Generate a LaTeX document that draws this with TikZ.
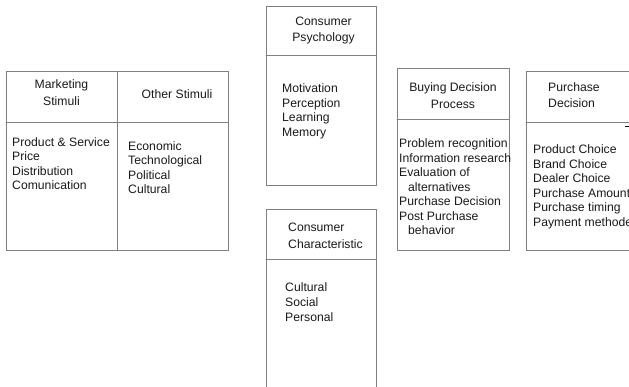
\documentclass[tikz,border=0pt]{standalone}
\usepackage{fontspec}
\setmainfont{Liberation Sans}
\usetikzlibrary{positioning}

\begin{document}
\begin{tikzpicture}[x=1pt,y=-1pt,line cap=round]
      \useasboundingbox (0,0) rectangle (629,387);
      \tikzstyle{myframe}=[line width=0.9pt, draw=black!50, line join=miter];
      % multi-line nodes sit on the baseline of their last line
      \tikzstyle{mytitle}=[inner sep=0pt, align=center, anchor=base, font=\fontsize{12.2}{16.5}\selectfont, text=black!90];
      \tikzstyle{mytitleleft}=[mytitle, align=left, anchor=base west];
      \tikzstyle{mylist}=[inner sep=0pt, align=left, anchor=base west, font=\fontsize{12.2}{14.5}\selectfont, text=black!90];
      
      % stimuli
      \draw[myframe] (6,71) rectangle (117,250);
      \draw[myframe] (117,71) rectangle (228,250);
      \draw[myframe] (6,122) -- (228,122);
      \node[mytitle] (ms) at (61.5,105.5) {Marketing\\Stimuli};
      \node[mylist] (msl) at (12,190) {Product \& Service\\Price\\Distribution\\Comunication};
      \node[mytitle] (os) at (177,98.5) {Other Stimuli};
      \node[mylist] (osl) at (128,194) {Economic\\Technological\\Political\\Cultural};
      
      % consumer psychology
      \draw[myframe] (266,6) rectangle (376,185);
      \draw[myframe] (266,55) -- (376,55);
      \node[mytitle] (cp) at (323.5,42) {Consumer\\Psychology};
      \node[mylist] (cpl) at (282,136.5) {Motivation\\Perception\\Learning\\Memory};
      
      % consumer characteristic, runs off the bottom
      \draw[myframe] (266,387) -- (266,209) -- (376,209) -- (376,387);
      \draw[myframe] (266,259) -- (376,259);
      \node[mytitleleft] (cc) at (288,248.5) {Consumer\\Characteristic};
      \node[mylist] (ccl) at (285,321) {Cultural\\Social\\Personal};
      
      % buying decision process
      \draw[myframe] (397,68) rectangle (509,250);
      \draw[myframe] (397,119) -- (509,119);
      \node[mytitle] (bd) at (453,108.5) {Buying Decision\\Process};
      \node[mylist] (bdl) at (399,235) {Problem recognition\\Information research\\Evaluation of\\\hspace*{9pt}alternatives\\Purchase Decision\\Post Purchase\\\hspace*{9pt}behavior};
      
      % purchase decision, open on the right
      \draw[myframe] (629,71) -- (526,71) -- (526,250) -- (629,250);
      \draw[myframe] (526,122) -- (629,122);
      \node[mytitleleft] (pd) at (548,108) {Purchase\\Decision};
      \node[mylist] (pdl) at (533,226.5) {Product Choice\\Brand Choice\\Dealer Choice\\Purchase Amount\\Purchase timing\\Payment methode};
      \coordinate (T1) at (625,127);
      \coordinate (T2) at (629,127);
      \draw[line width=1pt, line cap=butt] (T1) -- (T2);
    \end{tikzpicture}
\end{document}
